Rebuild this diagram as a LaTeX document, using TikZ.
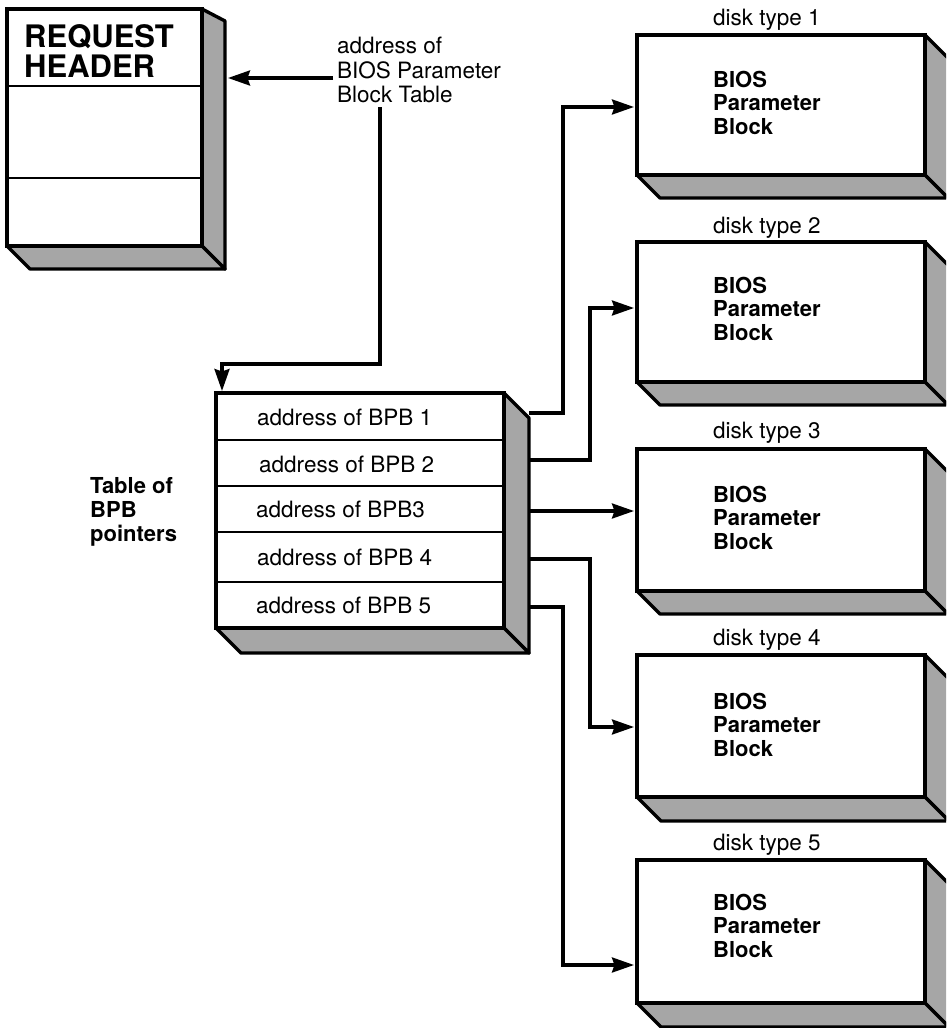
\documentclass[tikz,border=0pt]{standalone}
\usepackage{fontspec}
\setmainfont{TeX Gyre Heros}
\usetikzlibrary{arrows.meta}
% #1 name, #2 x0, #3 y0 (top), #4 x1, #5 y1 (bottom), #6 depth
\newcommand\solidblock[6]{%
  \filldraw[sideface] (#4,#3) -- (#4+#6,#3+#6) -- (#4+#6,#5+#6) -- (#4,#5) -- cycle;
  \filldraw[sideface] (#2,#5) -- (#2+#6,#5+#6) -- (#4+#6,#5+#6) -- (#4,#5) -- cycle;
  \node[frontface, minimum width={(#4-#2)*1pt}, minimum height={(#5-#3)*1pt}, anchor=north west] (#1) at (#2,#3) {};
}
\newcommand\bpbtext[3]{% name, x, baseline of first line
  \node[blbl] (#1a) at (#2,#3) {BIOS};
  \node[blbl] (#1b) at (#2,#3+23.5) {Parameter};
  \node[blbl] (#1c) at (#2,#3+47) {Block};
}
\begin{document}
\begin{tikzpicture}[x=1pt,y=-1pt,
  sideface/.style={draw=black, line width=3.4pt, fill=black!35, line join=round},
  frontface/.style={draw=black, line width=3.4pt, fill=white, rectangle, inner sep=0pt, outer sep=0pt},
  divider/.style={line width=2.6pt},
  conn/.style={line width=3.1pt, -{Stealth[length=22pt,width=15pt,inset=2.5pt]}},
  lbl/.style={font=\fontsize{22.5}{24}\selectfont, inner sep=0pt, anchor=base west},
  blbl/.style={font=\bfseries\fontsize{22}{24}\selectfont, inner sep=0pt, anchor=base west},
  hlbl/.style={font=\bfseries\fontsize{31}{32}\selectfont, inner sep=0pt, anchor=base west},
]
\clip (0,0) rectangle (946,1028);

% ---------- Request header ----------
\filldraw[sideface] (202,9) -- (225,21) -- (225,269) -- (202,246) -- cycle;
\filldraw[sideface] (7,246) -- (30,269) -- (225,269) -- (202,246) -- cycle;
\node[frontface, minimum width=195pt, minimum height=237pt, anchor=north west] (req) at (7,9) {};
\draw[divider] (7,86) -- (202,86);
\draw[divider] (7,178) -- (202,178);
\node[hlbl] (reqa) at (24,47) {REQUEST};
\node[hlbl] (reqb) at (24,77) {HEADER};

% ---------- address of BPB table label ----------
\node[lbl] (bpta) at (337,53) {address of};
\node[lbl] (bptb) at (337,78) {BIOS Parameter};
\node[lbl] (bptc) at (337,102) {Block Table};

% ---------- table of BPB pointers ----------
\solidblock{tbl}{216}{393}{504}{628}{25}
\draw[divider] (216,440) -- (504,440);
\draw[divider] (216,486) -- (504,486);
\draw[divider] (216,532) -- (504,532);
\draw[divider] (216,582) -- (504,582);
\node[lbl] (r1) at (257,425) {address of BPB 1};
\node[lbl] (r2) at (259,472) {address of BPB 2};
\node[lbl] (r3) at (256,517) {address of BPB3};
\node[lbl] (r4) at (257,565) {address of BPB 4};
\node[lbl] (r5) at (256,613) {address of BPB 5};

\node[blbl] (tpa) at (90,493) {Table of};
\node[blbl] (tpb) at (90,517) {BPB};
\node[blbl] (tpc) at (90,541) {pointers};

% ---------- BIOS parameter blocks ----------
\solidblock{b1}{637}{35}{925}{175}{23}
\solidblock{b2}{637}{242}{925}{382}{23}
\solidblock{b3}{637}{449}{925}{591}{23}
\solidblock{b4}{637}{655}{925}{797}{24}
\solidblock{b5}{637}{860}{925}{1003}{24}

\node[lbl] (d1) at (713,25) {disk type 1};
\node[lbl] (d2) at (713,233) {disk type 2};
\node[lbl] (d3) at (713,438) {disk type 3};
\node[lbl] (d4) at (713,645) {disk type 4};
\node[lbl] (d5) at (713,850) {disk type 5};

\bpbtext{t1}{713}{87}
\bpbtext{t2}{713}{293}
\bpbtext{t3}{713}{502}
\bpbtext{t4}{713}{709}
\bpbtext{t5}{713}{910}

% ---------- connector end points ----------
\coordinate (hstart) at (333,78);
\coordinate (hend) at (228,78);
\coordinate (vstart) at (380,107);
\coordinate (tblin) at (222,391);
\coordinate (p1) at (529,413);
\coordinate (p2) at (529,460);
\coordinate (p3) at (529,511);
\coordinate (p4) at (529,559);
\coordinate (p5) at (529,607);
\coordinate (q1) at (634,107);
\coordinate (q2) at (634,308);
\coordinate (q3) at (634,511);
\coordinate (q4) at (634,727);
\coordinate (q5) at (634,965);

% ---------- connectors ----------
\draw[conn] (hstart) -- (hend);
\draw[conn] (vstart) -- (380,364) -| (tblin);
\draw[conn] (p1) -- ++(34,0) |- (q1);
\draw[conn] (p2) -- ++(61,0) |- (q2);
\draw[conn] (p3) -- (q3);
\draw[conn] (p4) -- ++(61,0) |- (q4);
\draw[conn] (p5) -- ++(34,0) |- (q5);
\end{tikzpicture}
\end{document}
